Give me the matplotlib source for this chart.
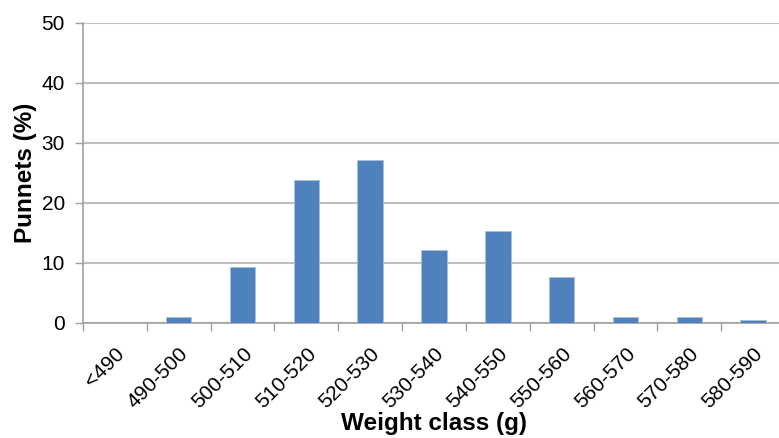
import matplotlib.pyplot as plt
import numpy as np

plt.rcParams['font.family'] = ['Liberation Sans', 'DejaVu Sans']

classes = ['<490', '490-500', '500-510', '510-520', '520-530', '530-540',
           '540-550', '550-560', '560-570', '570-580', '580-590']
punnets = [0, 1.0, 9.3, 23.8, 27.1, 12.1, 15.4, 7.7, 1.0, 1.0, 0.5]

fig = plt.figure(figsize=(7.79, 4.38), dpi=100)
ax = fig.add_axes([83/779, 1 - 323/438, 702/779, 300/438])

x = np.arange(len(classes))
ax.bar(x, punnets, width=0.4, color='#4F81BD', edgecolor='#A7C0DE', linewidth=0.6, zorder=3)

ax.set_xlim(-0.5, len(classes) - 0.5)
ax.set_ylim(0, 50)
ax.set_yticks(range(0, 51, 10))
ax.yaxis.grid(True, color='#BFBFBF', linewidth=1.5, zorder=0)

ax.set_xticks(x)
ax.set_xticklabels(classes, rotation=45, ha='right', rotation_mode='anchor', fontsize=15)
ax.set_xticks(np.arange(-0.5, len(classes), 1), minor=True)
ax.tick_params(axis='x', which='major', length=0, pad=15)
ax.tick_params(axis='x', which='minor', length=6, color='#A0A0A0', width=1)
ax.tick_params(axis='y', length=6, color='#A0A0A0', width=1, labelsize=15, pad=7)

for s in ['top', 'right']:
    ax.spines[s].set_visible(False)
for s in ['left', 'bottom']:
    ax.spines[s].set_color('#A0A0A0')
    ax.spines[s].set_linewidth(1.2)

ax.set_xlabel('Weight class (g)', fontsize=17.5, fontweight='bold', labelpad=0)
ax.set_ylabel('Punnets (%)', fontsize=17.5, fontweight='bold', labelpad=3)

fig.savefig('out.png', dpi=100)
